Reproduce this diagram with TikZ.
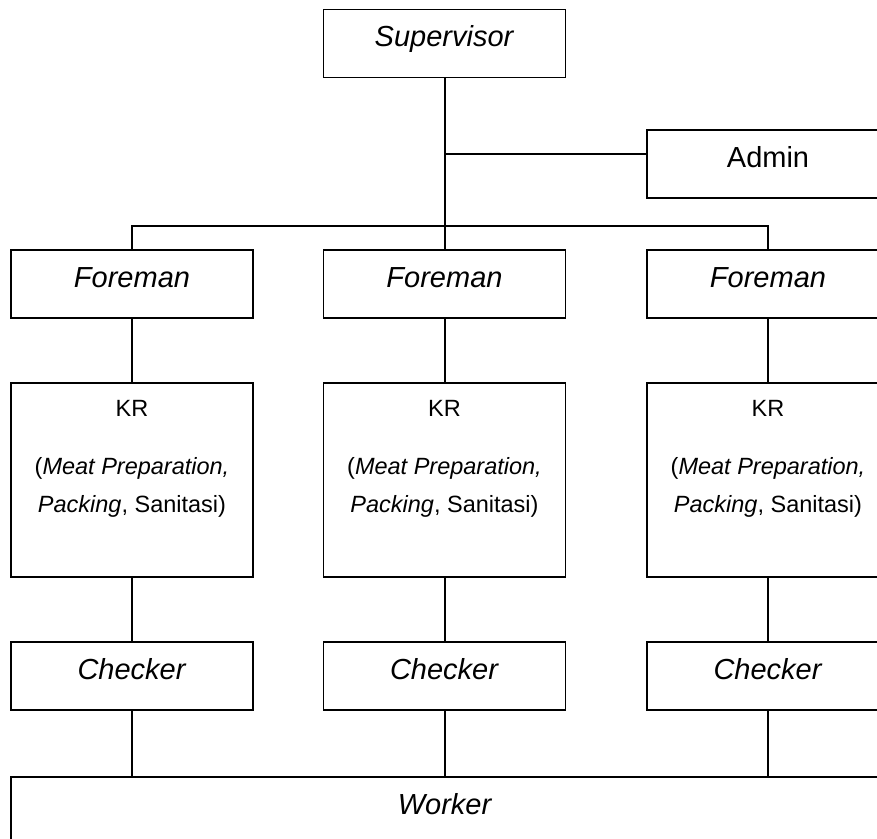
\documentclass[tikz,border=0pt]{standalone}
\usepackage{fontspec}
\setmainfont{Liberation Sans}
\begin{document}
\begin{tikzpicture}[x=0.5pt,y=-0.5pt,
  box/.style={draw, line width=0.8pt, inner sep=0pt, minimum width=121pt, minimum height=34pt},
  hd/.style={box, font=\fontsize{14.5pt}{17pt}\selectfont, text height=10.4pt, text depth=7pt},
  krbox/.style={box, minimum height=97pt},
  krtext/.style={anchor=base, inner sep=0pt, font=\fontsize{11.75pt}{14pt}\selectfont},
  conn/.style={line width=1pt}]
\useasboundingbox (0,0) rectangle (877,839);
\clip (0,0) rectangle (877,839);
\node[hd] (sup) at (444.5,43.5) {\textit{Supervisor}};
\node[hd] (adm) at (768,164) {Admin};
\foreach \i/\x in {1/132,2/444.5,3/768} {
  \node[hd] (f\i) at (\x,284) {\textit{Foreman}};
  \node[krbox] (k\i) at (\x,480) {};
  \node[krtext] (ka\i) at (\x,416) {KR};
  \node[krtext] (kb\i) at (\x,474) {(\textit{Meat Preparation,}};
  \node[krtext] (kc\i) at (\x,512) {\textit{Packing}, Sanitasi)};
  \node[hd] (c\i) at (\x,676) {\textit{Checker}};
}
\node[box, minimum width=434pt, minimum height=62pt, font=\fontsize{14.5pt}{17pt}\selectfont, text height=10.4pt, text depth=34.5pt] (wk) at (445,839) {\textit{Worker}};
\coordinate (j1) at (444.5,154);
\coordinate (bus) at (444.5,226);
\draw[conn] (sup.south) -- (f2.north);
\draw[conn] (j1) -- (j1 -| adm.west);
\draw[conn] (f1.north) -- (f1.north |- bus) -- (f3.north |- bus) -- (f3.north);
\foreach \i in {1,2,3} {
  \draw[conn] (f\i.south) -- (k\i.north);
  \draw[conn] (k\i.south) -- (c\i.north);
  \draw[conn] (c\i.south) -- (c\i.south |- wk.north);
}
\end{tikzpicture}
\end{document}
